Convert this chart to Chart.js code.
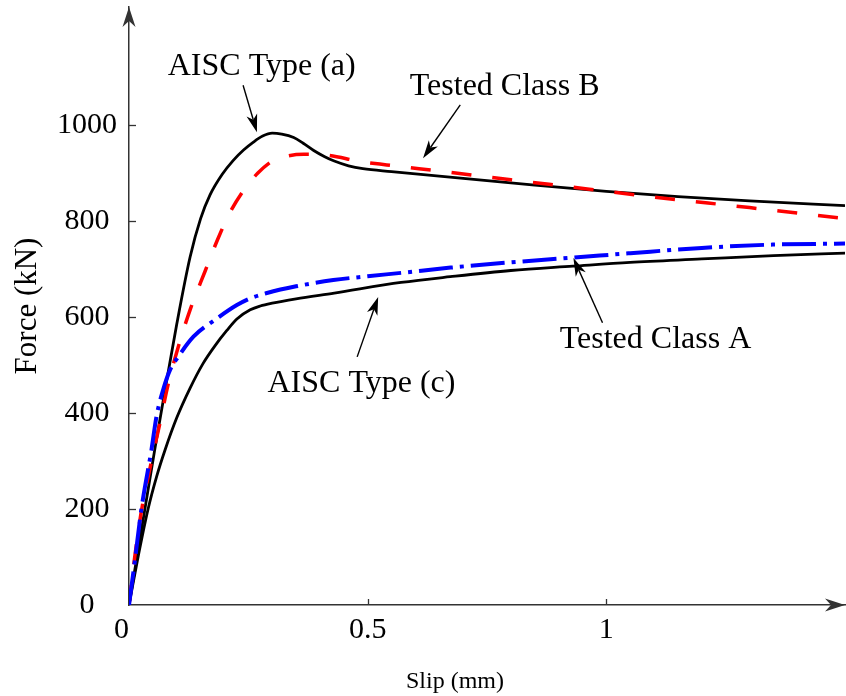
<!DOCTYPE html>
<html>
<head>
<meta charset="utf-8">
<script src="https://cdn.jsdelivr.net/npm/chart.js@4.4.1/dist/chart.umd.min.js"></script>
<style>
  html, body { margin: 0; padding: 0; background: #ffffff; }
  #wrap { width: 846px; height: 696px; }
</style>
</head>
<body>
<div id="wrap"><canvas id="c" width="846" height="696"></canvas></div>
<script>
// Force-slip curves of slip-critical bolted connections

// AISC Type (a) model
const typeASlip  = [0, 0.017, 0.034, 0.055, 0.075, 0.1, 0.128, 0.15, 0.17, 0.195, 0.218, 0.24, 0.26, 0.28, 0.3, 0.32, 0.345, 0.365, 0.387, 0.41, 0.43, 0.46, 0.49, 0.55, 0.7, 0.85, 1.0, 1.15, 1.3, 1.5];
const typeAForce = [0, 102, 204, 330, 445, 585, 725, 805, 855, 897, 926, 948, 964, 977, 983, 981, 974, 962, 947, 934, 925, 915, 909, 903, 889, 875, 862, 851, 842, 832];

// AISC Type (c) model
const typeCSlip  = [0, 0.02, 0.04, 0.058, 0.0755, 0.1, 0.128, 0.155, 0.18, 0.205, 0.226, 0.254, 0.275, 0.3, 0.35, 0.43, 0.57, 0.673, 0.8, 0.93, 1.05, 1.2, 1.35, 1.5];
const typeCForce = [0, 105, 200, 268, 323, 390, 452, 503, 540, 572, 596, 615, 623, 629, 638, 650, 672, 684, 697, 706, 714, 721, 728, 733];

// Tested Class B specimen
const classBSlip  = [0, 0.012, 0.025, 0.045, 0.065, 0.082, 0.103, 0.128, 0.16, 0.185, 0.21, 0.24, 0.27, 0.302, 0.335, 0.366, 0.416, 0.485, 0.54, 0.66, 0.8, 0.96, 1.1, 1.3, 1.5];
const classBForce = [0, 100, 190, 290, 380, 460, 537, 615, 697, 760, 815, 864, 900, 926, 936, 939, 937, 924, 917, 903, 886, 867, 850, 828, 805];

// Tested Class A specimen
const classASlip  = [0, 0.012, 0.026, 0.047, 0.058, 0.072, 0.086, 0.103, 0.135, 0.18, 0.226, 0.254, 0.289, 0.35, 0.428, 0.5, 0.57, 0.674, 0.8, 0.933, 1.05, 1.2, 1.35, 1.5];
const classAForce = [0, 90, 200, 323, 395, 450, 490, 517, 559, 594, 625, 639, 650, 664, 677, 685, 692, 703, 714, 724, 733, 744, 751, 753];

const xTickValues = [0, 0.5, 1];
const yTickValues = [0, 200, 400, 600, 800, 1000];

const xTitle = 'Slip (mm)';
const yTitle = 'Force (kN)';

const SERIF = '"Liberation Serif", "Times New Roman", serif';

const toPoints = (xs, ys) => xs.map((x, i) => ({ x: x, y: ys[i] }));

// Callout labels: text anchor and arrow (tail -> tip), in data units
const callouts = [
  { text: 'AISC Type (a)',  at: [0.278, 1104], tail: [0.239, 1083], tip: [0.268, 985] },
  { text: 'Tested Class B', at: [0.787, 1062], tail: [0.694, 1042], tip: [0.616, 931] },
  { text: 'Tested Class A', at: [1.103, 535],  tail: [0.992, 588],  tip: [0.931, 723] },
  { text: 'AISC Type (c)',  at: [0.487, 444],  tail: [0.478, 517],  tip: [0.522, 642] }
];

function fillHead(ctx, x0, y0, x1, y1, len, half, notch) {
  const d = Math.hypot(x1 - x0, y1 - y0);
  const ux = (x1 - x0) / d, uy = (y1 - y0) / d;
  const nx = -uy, ny = ux;
  ctx.beginPath();
  ctx.moveTo(x1, y1);
  ctx.lineTo(x1 - ux * len + nx * half, y1 - uy * len + ny * half);
  ctx.lineTo(x1 - ux * (len - notch), y1 - uy * (len - notch));
  ctx.lineTo(x1 - ux * len - nx * half, y1 - uy * len - ny * half);
  ctx.closePath();
  ctx.fill();
}

function drawArrow(ctx, x0, y0, x1, y1) {
  const len = 18, half = 5.5, notch = 5;
  const d = Math.hypot(x1 - x0, y1 - y0);
  const ux = (x1 - x0) / d, uy = (y1 - y0) / d;
  ctx.beginPath();
  ctx.moveTo(x0, y0);
  ctx.lineTo(x1 - ux * (len - notch), y1 - uy * (len - notch));
  ctx.lineWidth = 1.4;
  ctx.stroke();
  fillHead(ctx, x0, y0, x1, y1, len, half, notch);
}

const decorations = {
  id: 'decorations',
  afterDraw(chart) {
    const { ctx, chartArea: a, scales: { x, y } } = chart;
    ctx.save();
    const axisColor = '#333333';

    // inward tick marks
    ctx.strokeStyle = axisColor;
    ctx.lineWidth = 1.3;
    yTickValues.forEach(v => {
      if (v === 0) return;
      const py = Math.round(y.getPixelForValue(v)) + 0.5;
      ctx.beginPath(); ctx.moveTo(a.left, py); ctx.lineTo(a.left + 7, py); ctx.stroke();
    });
    xTickValues.forEach(v => {
      if (v === 0) return;
      const px = Math.round(x.getPixelForValue(v)) + 0.5;
      ctx.beginPath(); ctx.moveTo(px, a.bottom); ctx.lineTo(px, a.bottom - 6); ctx.stroke();
    });

    // axis arrowheads
    ctx.fillStyle = axisColor;
    fillHead(ctx, a.left, a.top + 30, a.left, a.top, 20, 6.5, 6);
    fillHead(ctx, a.right - 30, a.bottom, a.right, a.bottom, 20, 6.5, 6);

    // x axis title
    ctx.fillStyle = '#000000';
    ctx.font = '24px ' + SERIF;
    ctx.textAlign = 'center';
    ctx.textBaseline = 'alphabetic';
    ctx.fillText(xTitle, 455, a.bottom + 83);

    // callouts
    ctx.font = '32px ' + SERIF;
    ctx.strokeStyle = '#000000';
    ctx.fillStyle = '#000000';
    callouts.forEach(c => {
      ctx.fillText(c.text, x.getPixelForValue(c.at[0]), y.getPixelForValue(c.at[1]));
      drawArrow(ctx,
        x.getPixelForValue(c.tail[0]), y.getPixelForValue(c.tail[1]),
        x.getPixelForValue(c.tip[0]), y.getPixelForValue(c.tip[1]));
    });
    ctx.restore();
  }
};

const lineBase = {
  pointRadius: 0,
  fill: false,
  cubicInterpolationMode: 'monotone'
};

new Chart(document.getElementById('c'), {
  type: 'line',
  data: {
    datasets: [
      Object.assign({ label: 'Tested Class A', data: toPoints(classASlip, classAForce),
        borderColor: '#0000ff', borderWidth: 4, borderDash: [34, 7, 4, 7], order: 0 }, lineBase),
      Object.assign({ label: 'Tested Class B', data: toPoints(classBSlip, classBForce),
        borderColor: '#ff0000', borderWidth: 3.5, borderDash: [20, 21], order: 1 }, lineBase),
      Object.assign({ label: 'AISC Type (a)', data: toPoints(typeASlip, typeAForce),
        borderColor: '#000000', borderWidth: 2.8, order: 2 }, lineBase),
      Object.assign({ label: 'AISC Type (c)', data: toPoints(typeCSlip, typeCForce),
        borderColor: '#000000', borderWidth: 2.8, order: 3 }, lineBase)
    ]
  },
  options: {
    responsive: false,
    devicePixelRatio: 1,
    animation: false,
    layout: { padding: { left: 0, right: 1, top: 7, bottom: 0 } },
    plugins: { legend: { display: false }, tooltip: { enabled: false } },
    scales: {
      x: {
        type: 'linear',
        min: 0,
        max: 1.5,
        afterBuildTicks: s => { s.ticks = xTickValues.map(v => ({ value: v })); },
        afterFit: s => { s.height = 91; s.paddingLeft = 0; s.paddingRight = 0; },
        grid: { display: false, drawTicks: false },
        border: { display: true, color: '#333333', width: 1.5 },
        ticks: {
          color: '#000000',
          padding: 7,
          maxRotation: 0,
          font: { family: SERIF, size: 30 },
          callback: v => (v === 0 ? '0\u2002' : String(v))
        }
      },
      y: {
        type: 'linear',
        min: 0,
        max: 1246,
        afterBuildTicks: s => { s.ticks = yTickValues.map(v => ({ value: v })); },
        afterFit: s => { s.width = 129; s.paddingTop = 0; s.paddingBottom = 0; },
        grid: { display: false, drawTicks: false },
        border: { display: true, color: '#333333', width: 1.5 },
        ticks: {
          color: '#000000',
          padding: 12,
          crossAlign: 'center',
          font: { family: SERIF, size: 30 },
          callback: v => String(v)
        },
        title: {
          display: true,
          text: yTitle,
          color: '#000000',
          padding: { top: 9, bottom: 0 },
          font: { family: SERIF, size: 31 }
        }
      }
    }
  },
  plugins: [decorations]
});
</script>
</body>
</html>
